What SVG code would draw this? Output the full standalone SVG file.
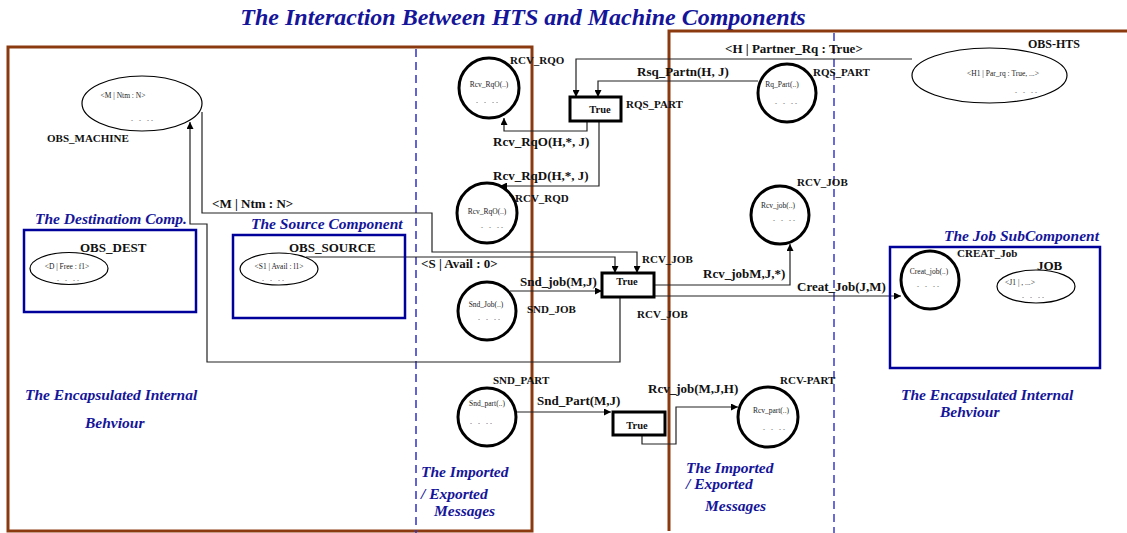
<svg xmlns="http://www.w3.org/2000/svg" width="1127" height="533" viewBox="0 0 1127 533">
<defs>
<marker id="ah" viewBox="0 0 10 10" refX="10" refY="5" markerWidth="7" markerHeight="7" orient="auto" markerUnits="userSpaceOnUse"><path d="M0,0 L10,5 L0,10 z" fill="#000"/></marker>
<style>
.frame{fill:none;stroke:#8b3a10;stroke-width:3}
.dash1{stroke:#3030c8;stroke-width:1.5;stroke-dasharray:8,5;fill:none}
.dash2{stroke:#6a6ad8;stroke-width:2;stroke-dasharray:8,5;fill:none}
.comp{fill:none;stroke:#00009a;stroke-width:2.5}
.circ{fill:#fff;stroke:#000;stroke-width:3}
.ell{fill:#fff;stroke:#000;stroke-width:1.2}
.tbox{fill:#fff;stroke:#000;stroke-width:3}
.conn{fill:none;stroke:#222;stroke-width:1.2}
.lbl{font-family:"Liberation Serif",serif;font-weight:bold;font-size:11px;fill:#111}
.msg{font-family:"Liberation Serif",serif;font-weight:bold;font-size:13px;fill:#111}
.small{font-family:"Liberation Serif",serif;font-size:7.5px;fill:#222}
.dots{font-family:"Liberation Serif",serif;font-size:8px;fill:#222;letter-spacing:2px}
.tru{font-family:"Liberation Serif",serif;font-weight:bold;font-size:10.5px;fill:#111;text-anchor:middle}
.blue{font-family:"Liberation Serif",serif;font-weight:bold;font-style:italic;font-size:15.5px;fill:#15159a}
.title{font-family:"Liberation Serif",serif;font-weight:bold;font-style:italic;font-size:24px;fill:#15159a}
</style>
</defs>
<rect width="1127" height="533" fill="#fff"/>
<text class="title" x="523" y="25" text-anchor="middle">The Interaction Between HTS and Machine Components</text>

<g id="frames">
<rect class="frame" x="8" y="47" width="524" height="484"/>
<path class="frame" d="M669,531 L669,31 L1127,31"/>
<line class="dash1" x1="416" y1="49" x2="416" y2="533"/>
<line class="dash2" x1="834" y1="33" x2="834" y2="533"/>
</g>

<g id="texts">
<text class="blue" x="25" y="400">The Encapsulated Internal</text>
<text class="blue" x="85" y="428">Behviour</text>
<text class="blue" x="901" y="400">The Encapsulated Internal</text>
<text class="blue" x="940" y="417">Behviour</text>
<text class="blue" x="421" y="477">The Imported</text>
<text class="blue" x="421" y="499">/ Exported</text>
<text class="blue" x="434" y="516">Messages</text>
<text class="blue" x="686" y="473">The Imported</text>
<text class="blue" x="686" y="489">/ Exported</text>
<text class="blue" x="705" y="511">Messages</text>
</g>

<g id="connectors">
<path class="conn" d="M620,297 L620,362 L207,362 L207,224 L190,224 L190,122" marker-end="url(#ah)"/>
<path class="conn" d="M202,112 L202,213 L432,213 L432,252 L637,252 L637,273" marker-end="url(#ah)"/>
<path class="conn" d="M306,257 L615,257 L615,273" marker-end="url(#ah)"/>
<path class="conn" d="M912,59 L576,59 L576,97" marker-end="url(#ah)"/>
<path class="conn" d="M758,81 L598,81 L598,97" marker-end="url(#ah)"/>
<path class="conn" d="M587,121 L587,131 L504,131 L504,118" marker-end="url(#ah)"/>
<path class="conn" d="M599,121 L599,186 L500,186" marker-end="url(#ah)"/>
<path class="conn" d="M510,291 L602,291" marker-end="url(#ah)"/>
<path class="conn" d="M654,285 L790,285 L790,244" marker-end="url(#ah)"/>
<path class="conn" d="M654,296 L901,296" marker-end="url(#ah)"/>
<path class="conn" d="M516,412 L611,412" marker-end="url(#ah)"/>
<path class="conn" d="M642,435 L642,444 L676,444 L676,407 L738,407" marker-end="url(#ah)"/>
<text class="msg" x="212" y="208">&lt;M | Ntm : N&gt;</text>
<text class="msg" x="421" y="268">&lt;S | Avail : 0&gt;</text>
<text class="msg" x="725" y="53">&lt;H | Partner_Rq : True&gt;</text>
<text class="msg" x="637" y="76">Rsq_Partn(H, J)</text>
<text class="msg" x="493" y="146">Rcv_RqO(H,*, J)</text>
<text class="msg" x="493" y="180">Rcv_RqD(H,*, J)</text>
<text class="msg" x="520" y="286">Snd_job(M,J)</text>
<text class="msg" x="703" y="278">Rcv_jobM,J,*)</text>
<text class="msg" x="797" y="291">Creat_Job(J,M)</text>
<text class="msg" x="537" y="405">Snd_Part(M,J)</text>
<text class="msg" x="648" y="393">Rcv_job(M,J,H)</text>
</g>

<g id="obs-machine">
<ellipse class="ell" cx="142" cy="103.5" rx="60" ry="27.5"/>
<text class="small" x="123" y="98" text-anchor="middle">&lt;M | Ntm : N&gt;</text>
<text class="dots" x="131" y="121">. . ..</text>
<text class="lbl" x="47" y="142">OBS_MACHINE</text>
</g>

<g id="dest-comp">
<text class="blue" x="35" y="224">The Destinatiom Comp.</text>
<rect class="comp" x="24" y="230" width="172" height="82"/>
<text class="msg" x="80" y="252">OBS_DEST</text>
<ellipse class="ell" cx="69" cy="268.5" rx="39" ry="16"/>
<text class="small" x="67" y="269" text-anchor="middle">&lt;D | Free : f1&gt;</text>
<text class="dots" x="57" y="281">. . ..</text>
</g>

<g id="source-comp">
<text class="blue" x="251" y="229">The Source Component</text>
<rect class="comp" x="233" y="235" width="172" height="83"/>
<text class="msg" x="289" y="252">OBS_SOURCE</text>
<ellipse class="ell" cx="279" cy="269" rx="39" ry="16"/>
<text class="small" x="279" y="269" text-anchor="middle">&lt;S1 | Avail : l1&gt;</text>
<text class="dots" x="262" y="281">. . ..</text>
</g>

<g id="rcv-rqo">
<circle class="circ" cx="489" cy="88" r="30"/>
<text class="small" x="489" y="87" text-anchor="middle">Rcv_RqO(..)</text>
<text class="dots" x="476" y="103">. . ..</text>
<text class="lbl" x="510" y="64">RCV_RQO</text>
</g>

<g id="rcv-rqd">
<circle class="circ" cx="487" cy="213" r="30"/>
<text class="small" x="487" y="214" text-anchor="middle">Rcv_RqO(..)</text>
<text class="dots" x="481" y="228">. . ..</text>
<text class="lbl" x="515" y="202">RCV_RQD</text>
</g>

<g id="snd-job">
<circle class="circ" cx="487" cy="311" r="29"/>
<text class="small" x="486" y="307" text-anchor="middle">Snd_Job(..)</text>
<text class="dots" x="478" y="320">. . ..</text>
<text class="lbl" x="527" y="313">SND_JOB</text>
</g>

<g id="snd-part">
<circle class="circ" cx="487" cy="417" r="29"/>
<text class="small" x="487" y="406" text-anchor="middle">Snd_part(..)</text>
<text class="dots" x="470" y="424">. . ..</text>
<text class="lbl" x="493" y="384">SND_PART</text>
</g>

<g id="rqs-part-box">
<rect class="tbox" x="570" y="97" width="51" height="24"/>
<text class="tru" x="600" y="113">True</text>
<text class="lbl" x="626" y="108">RQS_PART</text>
</g>

<g id="rcv-job-box">
<rect class="tbox" x="602" y="273" width="52" height="24"/>
<text class="tru" x="627" y="285">True</text>
<text class="lbl" x="642" y="263">RCV_JOB</text>
<text class="lbl" x="637" y="318">RCV_JOB</text>
</g>

<g id="snd-part-box">
<rect class="tbox" x="613" y="412" width="52" height="23"/>
<text class="tru" x="637" y="429">True</text>
</g>

<g id="rq-part">
<circle class="circ" cx="787" cy="93" r="29"/>
<text class="small" x="782" y="87" text-anchor="middle">Rq_Part(..)</text>
<text class="dots" x="775" y="104">. . ..</text>
<text class="lbl" x="813" y="76">RQS_PART</text>
</g>

<g id="obs-hts">
<ellipse class="ell" cx="989.5" cy="75.5" rx="77.5" ry="27.5"/>
<text class="small" x="1003" y="76" text-anchor="middle">&lt;H1 | Par_rq : True, ...&gt;</text>
<text class="dots" x="1015" y="93">. . ..</text>
<text class="lbl" x="1028" y="48" style="font-size:12px">OBS-HTS</text>
</g>

<g id="rcv-job">
<circle class="circ" cx="780" cy="215" r="29"/>
<text class="small" x="778" y="208" text-anchor="middle">Rcv_job(..)</text>
<text class="dots" x="773" y="221">. . ..</text>
<text class="lbl" x="797" y="186">RCV_JOB</text>
</g>

<g id="rcv-part">
<circle class="circ" cx="768" cy="417" r="30"/>
<text class="small" x="771" y="413" text-anchor="middle">Rcv_part(..)</text>
<text class="dots" x="763" y="430">. . ..</text>
<text class="lbl" x="780" y="384">RCV-PART</text>
</g>

<g id="job-subcomp">
<text class="blue" x="1099" y="241" text-anchor="end">The Job SubComponent</text>
<rect class="comp" x="890" y="247" width="210" height="121"/>
<circle class="circ" cx="930" cy="280" r="29"/>
<text class="small" x="929" y="274" text-anchor="middle">Creat_job(..)</text>
<text class="dots" x="917" y="287">. . ..</text>
<text class="lbl" x="957" y="257">CREAT_Job</text>
<text class="msg" x="1037" y="270">JOB</text>
<ellipse class="ell" cx="1036" cy="286.5" rx="39" ry="16.5"/>
<text class="small" x="1020" y="285" text-anchor="middle">&lt;J1 | , ...&gt;</text>
<text class="dots" x="1022" y="298">. . ..</text>
</g>
</svg>
